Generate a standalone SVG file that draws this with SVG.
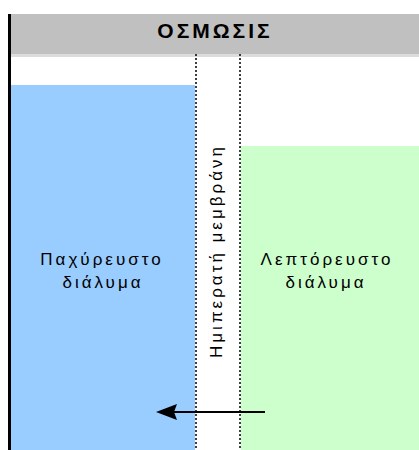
<svg xmlns="http://www.w3.org/2000/svg" width="419" height="450" viewBox="0 0 419 450">
<style>
.lbl{font-family:"Liberation Sans",Arial,sans-serif;font-size:17px;fill:#000;text-anchor:middle;letter-spacing:3px}
.mem{stroke:#000;stroke-width:1.5;stroke-dasharray:2 2}
.arrow{stroke:#000;stroke-width:2;fill:none}
.head{fill:#000;stroke:none}
</style>
<rect x="0" y="0" width="419" height="450" fill="#fff"/>
<g id="header">
<rect x="11" y="14" width="408" height="41" fill="#c0c0c0"/>
<rect x="11" y="54" width="408" height="3" fill="#dcdcdc"/>
<text x="215" y="38" font-family="'Liberation Sans',Arial,sans-serif" font-size="21" font-weight="bold" text-anchor="middle" letter-spacing="3">ΟΣΜΩΣΙΣ</text>
</g>
<g id="thick">
<rect x="11" y="85" width="184" height="365" fill="#99ccff"/>
<text class="lbl" x="102" y="265">Παχύρευστο</text>
<text class="lbl" x="103" y="288">διάλυμα</text>
</g>
<g id="thin">
<rect x="241" y="146" width="178" height="304" fill="#ccffcc"/>
<text class="lbl" x="327" y="265">Λεπτόρευστο</text>
<text class="lbl" x="326" y="288">διάλυμα</text>
</g>
<g id="membrane">
<line class="mem" x1="196" y1="54" x2="196" y2="450"/>
<line class="mem" x1="240" y1="54" x2="240" y2="450"/>
<text class="lbl" transform="translate(222,251) rotate(-90)" letter-spacing="1.6">Ημιπερατή μεμβράνη</text>
</g>
<g id="border">
<rect x="8" y="14" width="3" height="436" fill="#000"/>
</g>
<g id="connectors">
<line class="arrow" x1="265" y1="412" x2="172" y2="412"/>
<polygon class="head" points="156,412 177,404 174,412 177,420"/>
</g>
</svg>
